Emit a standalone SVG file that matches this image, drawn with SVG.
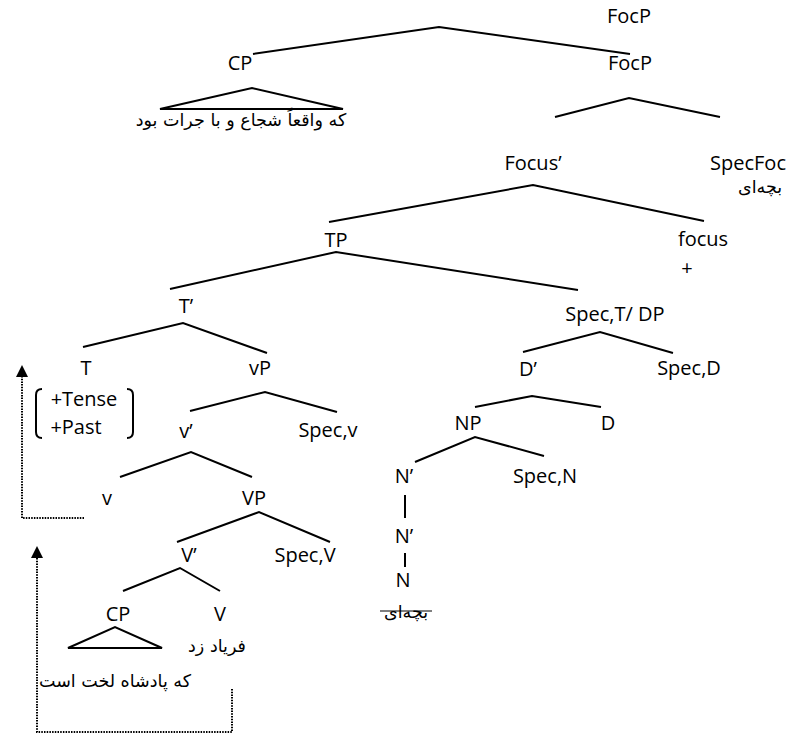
<svg xmlns="http://www.w3.org/2000/svg" width="788" height="736" viewBox="0 0 788 736">
<style>
.l{font-family:"Open Sans","Noto Sans",sans-serif;font-size:20px;fill:#000;text-anchor:middle}
.fa{font-family:"DejaVu Sans",sans-serif;font-size:17.5px;fill:#000;text-anchor:middle;direction:rtl}
.e{stroke:#000;stroke-width:2;fill:none}
.d{stroke:#000;stroke-width:2;fill:none;stroke-dasharray:1.5 1.2}
</style>
<rect width="788" height="736" fill="#fff"/>
<g id="connectors">
<polyline class="e" points="253,54 439,27 630,54"/>
<polygon class="e" points="160,109 252,88 343,109"/>
<polyline class="e" points="555,117 629,98 720,117"/>
<polyline class="e" points="329,222 533,185 704,221"/>
<polyline class="e" points="170,289 336,252 578,290"/>
<polyline class="e" points="83,347 183,323 267,353"/>
<polyline class="e" points="190,411 265,392 337,412"/>
<polyline class="e" points="120,477 191,452 252,477"/>
<polyline class="e" points="177,542 259,512 330,542"/>
<polyline class="e" points="123,591 180,568 220,591"/>
<polygon class="e" points="68,648 115,627 162,648"/>
<polyline class="e" points="523,352 600,332 673,353"/>
<polyline class="e" points="475,407 532,396 601,407"/>
<polyline class="e" points="415,462 475,437 544,456"/>
<line class="e" x1="405" y1="495" x2="405" y2="518"/>
<line class="e" x1="405" y1="553" x2="405" y2="567"/>
<polyline class="d" points="84,518 22,518 22,376"/>
<polygon points="22,365 16,377 28,377" fill="#000"/>
<polyline class="d" points="232,689 232,732 37,732 37,557"/>
<polygon points="37,546 31,558 43,558" fill="#000"/>
</g>
<g id="FocP-root"><text class="l" x="629" y="23">FocP</text></g>
<g id="CP-top"><text class="l" x="240" y="70">CP</text>
<text class="fa" x="241" y="126">که واقعاً شجاع و با جرات بود</text></g>
<g id="FocP"><text class="l" x="630" y="70">FocP</text></g>
<g id="Focus-bar"><text class="l" x="533" y="170">Focus’</text></g>
<g id="SpecFoc"><text class="l" x="748" y="170">SpecFoc</text>
<text class="fa" x="760" y="193">بچه&#x200C;ای</text></g>
<g id="TP"><text class="l" x="336" y="247">TP</text></g>
<g id="focus"><text class="l" x="703" y="246">focus</text>
<text class="l" x="687" y="275">+</text></g>
<g id="T-bar"><text class="l" x="186" y="313">T’</text></g>
<g id="SpecT-DP"><text class="l" x="615" y="321">Spec,T/ DP</text></g>
<g id="T"><text class="l" x="86" y="375">T</text>
<text class="l" x="84" y="406">+Tense</text>
<text class="l" x="76" y="434">+Past</text>
<path class="e" d="M42,389 Q36,389 36,395 L36,432 Q36,438 42,438" stroke-width="1.8"/>
<path class="e" d="M127,389 Q133,389 133,395 L133,432 Q133,438 127,438" stroke-width="1.8"/></g>
<g id="vP"><text class="l" x="260" y="375">vP</text></g>
<g id="v-bar"><text class="l" x="186" y="438">v’</text></g>
<g id="Spec-v"><text class="l" x="328" y="437">Spec,v</text></g>
<g id="v"><text class="l" x="107" y="505">v</text></g>
<g id="VP"><text class="l" x="254" y="505">VP</text></g>
<g id="V-bar"><text class="l" x="189" y="562">V’</text></g>
<g id="Spec-V"><text class="l" x="305" y="562">Spec,V</text></g>
<g id="CP-low"><text class="l" x="118" y="621">CP</text>
<text class="fa" x="115" y="687">که پادشاه لخت است</text></g>
<g id="V"><text class="l" x="220" y="621">V</text>
<text class="fa" x="217" y="652">فریاد زد</text></g>
<g id="D-bar"><text class="l" x="528" y="376">D’</text></g>
<g id="Spec-D"><text class="l" x="689" y="375">Spec,D</text></g>
<g id="NP"><text class="l" x="468" y="430">NP</text></g>
<g id="D"><text class="l" x="608" y="430">D</text></g>
<g id="N-bar1"><text class="l" x="404" y="483">N’</text></g>
<g id="Spec-N"><text class="l" x="545" y="483">Spec,N</text></g>
<g id="N-bar2"><text class="l" x="404" y="543">N’</text></g>
<g id="N"><text class="l" x="403" y="587">N</text>
<text class="fa" x="406" y="618">بچه&#x200C;ای</text>
<line x1="380" y1="611" x2="432" y2="611" stroke="#000" stroke-width="1.2"/></g>
</svg>
